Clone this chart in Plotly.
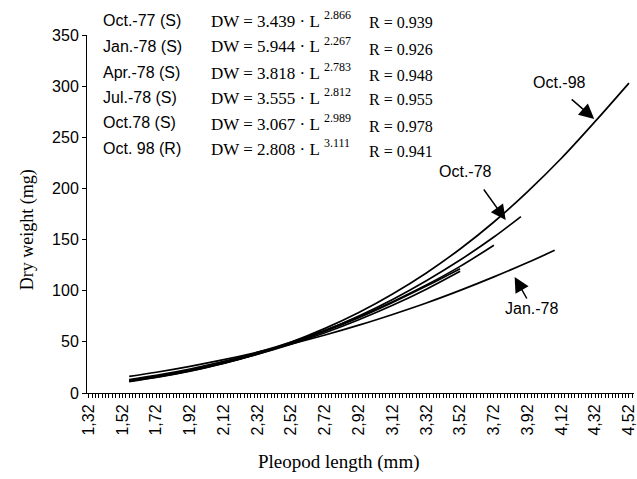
import plotly.graph_objects as go

# ---- data ----
series_names = ["Oct.-77 (S)", "Jan.-78 (S)", "Apr.-78 (S)", "Jul.-78 (S)", "Oct.78 (S)", "Oct. 98 (R)"]
coef_a = ["3.439", "5.944", "3.818", "3.555", "3.067", "2.808"]
coef_b = ["2.866", "2.267", "2.783", "2.812", "2.989", "3.111"]
r_vals = ["0.939", "0.926", "0.948", "0.955", "0.978", "0.941"]

L_oct77 = [1.56, 1.72, 1.92, 2.12, 2.32, 2.52, 2.72, 2.92, 3.12, 3.32, 3.52]
DW_oct77 = [12.3, 16.3, 22.3, 29.6, 38.4, 48.6, 60.3, 73.6, 88.5, 104.5, 121.5]

L_jan78 = [1.56, 1.72, 1.92, 2.12, 2.32, 2.52, 2.72, 2.92, 3.12, 3.32, 3.52, 3.72, 3.92, 4.08]
DW_jan78 = [16.3, 20.3, 26.1, 32.6, 39.9, 47.9, 56.7, 66.3, 76.8, 88.0, 100.3, 113.5, 127.5, 139.5]

L_apr78 = [1.56, 1.72, 1.92, 2.12, 2.32, 2.52, 2.72, 2.92, 3.12, 3.32, 3.52, 3.72]
DW_apr78 = [13.2, 17.3, 23.5, 30.9, 39.7, 49.8, 61.4, 74.6, 89.3, 105.6, 123.8, 144.5]

L_jul78 = [1.56, 1.72, 1.92, 2.12, 2.32, 2.52, 2.72, 2.92, 3.12, 3.32, 3.52]
DW_jul78 = [12.4, 16.3, 22.3, 29.4, 37.9, 47.7, 58.9, 71.6, 85.7, 101.5, 119.0]

L_oct78 = [1.56, 1.72, 1.92, 2.12, 2.32, 2.52, 2.72, 2.92, 3.12, 3.32, 3.52, 3.72, 3.88]
DW_oct78 = [11.6, 15.5, 21.6, 29.0, 38.0, 48.6, 61.0, 75.3, 91.5, 109.8, 130.0, 152.5, 172.5]

L_oct98 = [1.56, 1.72, 1.92, 2.12, 2.32, 2.52, 2.72, 2.92, 3.12, 3.32, 3.52, 3.72, 3.92, 4.12, 4.32, 4.52]
DW_oct98 = [11.2, 15.2, 21.4, 29.1, 38.5, 49.8, 63.2, 78.7, 96.8, 117.4, 140.8, 167.2, 196.9, 229.5, 265.5, 303.0]

x_tick_vals = [1.32, 1.52, 1.72, 1.92, 2.12, 2.32, 2.52, 2.72, 2.92, 3.12, 3.32, 3.52, 3.72, 3.92, 4.12, 4.32, 4.52]
x_tick_text = ["1,32", "1,52", "1,72", "1,92", "2,12", "2,32", "2,52", "2,72", "2,92", "3,12",
               "3,32", "3,52", "3,72", "3,92", "4,12", "4,32", "4,52"]
y_tick_vals = [0, 50, 100, 150, 200, 250, 300, 350]

SANS = "Liberation Sans, Arial, sans-serif"
SERIF = "Liberation Serif, Times New Roman, serif"

# plot area in pixels
L_PX, R_PX, T_PX, B_PX = 87, 637, 35, 393
def px(x):
    return (x - L_PX) / (R_PX - L_PX)
def py(y):
    return (B_PX - y) / (B_PX - T_PX)

fig = go.Figure()
for Lx, Dy in [(L_oct77, DW_oct77), (L_jan78, DW_jan78), (L_apr78, DW_apr78),
               (L_jul78, DW_jul78), (L_oct78, DW_oct78), (L_oct98, DW_oct98)]:
    fig.add_trace(go.Scatter(x=Lx, y=Dy, mode="lines",
                             line=dict(color="black", width=1.7, shape="spline", smoothing=1.0),
                             showlegend=False, hoverinfo="skip"))

ann = []
row_y = [20, 46, 72, 97, 123, 148]
for i in range(6):
    ann.append(dict(xref="paper", yref="paper", x=px(101), y=py(row_y[i]), xanchor="left", yanchor="middle",
                    text=series_names[i], showarrow=False, font=dict(family=SANS, size=16, color="black")))
    ann.append(dict(xref="paper", yref="paper", x=px(210), y=py(row_y[i] + 1), xanchor="left", yanchor="middle",
                    text="DW = " + coef_a[i] + " · L", showarrow=False,
                    font=dict(family=SERIF, size=17, color="black")))
    ann.append(dict(xref="paper", yref="paper", x=px(323), y=py(row_y[i] - 5), xanchor="left", yanchor="middle",
                    text=coef_b[i], showarrow=False, font=dict(family=SERIF, size=12, color="black")))
    ann.append(dict(xref="paper", yref="paper", x=px(369), y=py(row_y[i] + 3), xanchor="left", yanchor="middle",
                    text="R = " + r_vals[i], showarrow=False, font=dict(family=SERIF, size=16, color="black")))

# curve labels with arrows
labels = [("Oct.-98", 562, 83, (573, 98), (597, 119)),
          ("Oct.-78", 468, 172, (485, 188), (508, 220)),
          ("Jan.-78", 534, 308, (530, 300), (517, 277))]
for txt, cx, cy, tail, head in labels:
    ann.append(dict(xref="paper", yref="paper", x=px(cx), y=py(cy), xanchor="center", yanchor="middle",
                    text=txt, showarrow=False, font=dict(family=SANS, size=16, color="black")))
    ann.append(dict(xref="paper", yref="paper", x=px(head[0]), y=py(head[1]), text="",
                    showarrow=True, arrowhead=2, arrowsize=2.0, arrowwidth=1.5, arrowcolor="black",
                    axref="pixel", ayref="pixel", ax=tail[0] - head[0], ay=tail[1] - head[1], standoff=0))

# axis titles
ann.append(dict(xref="paper", yref="paper", x=px(340), y=py(462), xanchor="center", yanchor="middle",
                text="Pleopod length (mm)", showarrow=False, font=dict(family=SERIF, size=19, color="black")))
ann.append(dict(xref="paper", yref="paper", x=px(28), y=py(230), xanchor="center", yanchor="middle",
                text="Dry weight (mg)", showarrow=False, textangle=-90,
                font=dict(family=SERIF, size=18, color="black")))

fig.update_layout(
    width=637, height=479,
    margin=dict(l=L_PX, r=637 - R_PX, t=T_PX, b=479 - B_PX),
    paper_bgcolor="white", plot_bgcolor="white",
    annotations=ann,
    xaxis=dict(range=[1.31, 4.55], tickvals=x_tick_vals, ticktext=x_tick_text, tickangle=-90,
               ticklabeloverflow="allow",
               showgrid=False, zeroline=False, showline=True, linecolor="black", linewidth=1,
               ticks="outside", ticklen=4, tickcolor="black", tickwidth=1,
               minor=dict(dtick=0.02, tick0=1.32, ticks="outside", ticklen=4, tickcolor="black", tickwidth=1),
               tickfont=dict(family=SANS, size=16, color="black")),
    yaxis=dict(range=[0, 350], tickvals=y_tick_vals, showgrid=False, zeroline=False,
               showline=True, linecolor="black", linewidth=1,
               ticks="outside", ticklen=4, tickcolor="black", tickwidth=1,
               tickfont=dict(family=SANS, size=16, color="black")),
)

fig.write_html("out.html")
